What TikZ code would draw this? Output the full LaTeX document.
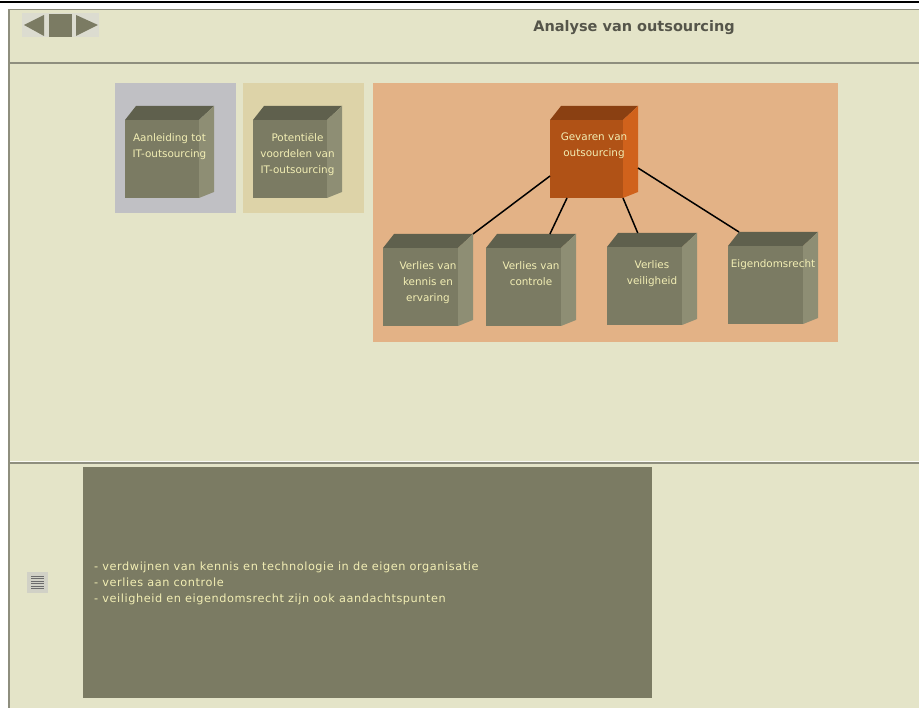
\documentclass[tikz,border=0pt]{standalone}
\usepackage{fontspec}
\setmainfont{DejaVu Sans}
\usetikzlibrary{calc}

\definecolor{pagebg}{HTML}{E4E4C8}
\definecolor{rulegray}{HTML}{8E8E7E}
\definecolor{olive}{HTML}{7B7B63}
\definecolor{olivetop}{HTML}{5F604D}
\definecolor{oliveside}{HTML}{8E8E74}
\definecolor{rusttop}{HTML}{8A4012}
\definecolor{rustfront}{HTML}{B05216}
\definecolor{rustside}{HTML}{D0621C}
\definecolor{panelgray}{HTML}{C0C0C4}
\definecolor{paneltan}{HTML}{DDD3A8}
\definecolor{panelorange}{HTML}{E3B286}
\definecolor{paletext}{HTML}{F2EEB4}
\definecolor{titlegray}{HTML}{55554A}
\definecolor{navbg}{HTML}{DCDCD0}

\tikzset{
  cubefront/.style={anchor=north west, inner sep=0pt, outer sep=0pt},
  cubetext/.style={anchor=north, inner sep=0pt, align=center, text=paletext,
    font=\fontsize{10.4}{16}\selectfont},
  link/.style={draw=black, line width=1.5pt},
  panel/.style={inner sep=0pt, outer sep=0pt},
}

% #1 name, #2 x, #3 y (front top-left), #4 width, #5 front, #6 top, #7 side, #8 label
\newcommand\drawcube[8]{%
  \fill[#6] (#2,#3) -- (#2+11,#3-14) -- (#2+#4+15,#3-14) -- (#2+#4,#3) -- cycle;
  \fill[#7] (#2+#4,#3) -- (#2+#4+15,#3-14) -- (#2+#4+15,#3+72) -- (#2+#4,#3+78) -- cycle;
  \node[cubefront, fill=#5, minimum width=#4pt, minimum height=78pt] (#1) at (#2,#3) {};
  \coordinate (#1-tl) at (#2+11,#3-14);
  \coordinate (#1-tr) at (#2+#4+15,#3-14);
  \node[cubetext] (#1-label) at (#2+#4/2+7.5,#3+13) {#8};
}

\begin{document}
\begin{tikzpicture}[x=1pt,y=-1pt]
  \useasboundingbox (0,0) rectangle (919,708);
  % page frame
  \fill[white] (0,0) rectangle (919,708);
  \fill[pagebg] (8,9) rectangle (919,708);
  \fill[black] (0,1) rectangle (919,3.5);
  \fill[rulegray] (8,9) rectangle (919,10.5);
  \fill[rulegray] (8,9) rectangle (10,708);
  \fill[rulegray] (10,62) rectangle (919,64);
  \fill[white!80!pagebg] (10,461) rectangle (919,462.5);
  \fill[rulegray] (10,462.5) rectangle (919,464.5);

  % navigation buttons
  \fill[navbg] (22,13) rectangle (99,37);
  \fill[olive] (24,25) -- (44,15) -- (44,36) -- cycle;
  \fill[olive] (49,14) rectangle (72,37);
  \fill[olive] (76,15) -- (98,25) -- (76,36) -- cycle;

  % title
  \node[font=\fontsize{14.5}{16}\bfseries, text=titlegray, inner sep=0pt] (title) at (634,28) {Analyse van outsourcing};

  % background panels
  \node[panel, fill=panelgray, anchor=north west, minimum width=121pt, minimum height=130pt] (pa) at (115,83) {};
  \node[panel, fill=paneltan, anchor=north west, minimum width=121pt, minimum height=130pt] (pb) at (243,83) {};
  \node[panel, fill=panelorange, anchor=north west, minimum width=465pt, minimum height=259pt] (pc) at (373,83) {};

  % cubes
  \drawcube{c1}{125}{120}{74}{olive}{olivetop}{oliveside}{Aanleiding tot\\IT-outsourcing}
  \drawcube{c2}{253}{120}{74}{olive}{olivetop}{oliveside}{Potentiële\\voordelen van\\IT-outsourcing}
  \drawcube{gev}{550}{120}{73}{rustfront}{rusttop}{rustside}{Gevaren van\\outsourcing}
  \drawcube{b1}{383}{248}{75}{olive}{olivetop}{oliveside}{Verlies van\\kennis en\\ervaring}
  \drawcube{b2}{486}{248}{75}{olive}{olivetop}{oliveside}{Verlies van\\controle}
  \drawcube{b3}{607}{247}{75}{olive}{olivetop}{oliveside}{Verlies\\veiligheid}
  \drawcube{b4}{728}{246}{75}{olive}{olivetop}{oliveside}{Eigendomsrecht}

  % connectors
  \draw[link] ($(gev.south west)+(0,-22)$) -- (b1-tr);
  \draw[link] ($(gev.south west)+(17,0)$) -- ($(b2-tl)!0.67!(b2-tr)$);
  \draw[link] (gev.south east) -- ($(b3-tl)!0.25!(b3-tr)$);
  \draw[link] ($(gev-tr)+(0,62)$) -- (b4-tl);

  % notes area
  \fill[navbg!95!black] (27,572) rectangle (48,593);
  \foreach \yy in {576,578.5,581,583.5,586,588.5}
    \draw[gray!85!black, line width=0.9pt] (31,\yy) -- (44,\yy);
  \node[panel, fill=olive, anchor=north west, minimum width=569pt, minimum height=231pt] (notes) at (83,467) {};
  \node[anchor=west, inner sep=0pt, align=left, text=paletext,
        font=\fontsize{11.3}{16}\selectfont\addfontfeature{LetterSpace=5}] (notetext) at (94,583)
    {- verdwijnen van kennis en technologie in de eigen organisatie\\
     - verlies aan controle\\
     - veiligheid en eigendomsrecht zijn ook aandachtspunten};
\end{tikzpicture}
\end{document}
